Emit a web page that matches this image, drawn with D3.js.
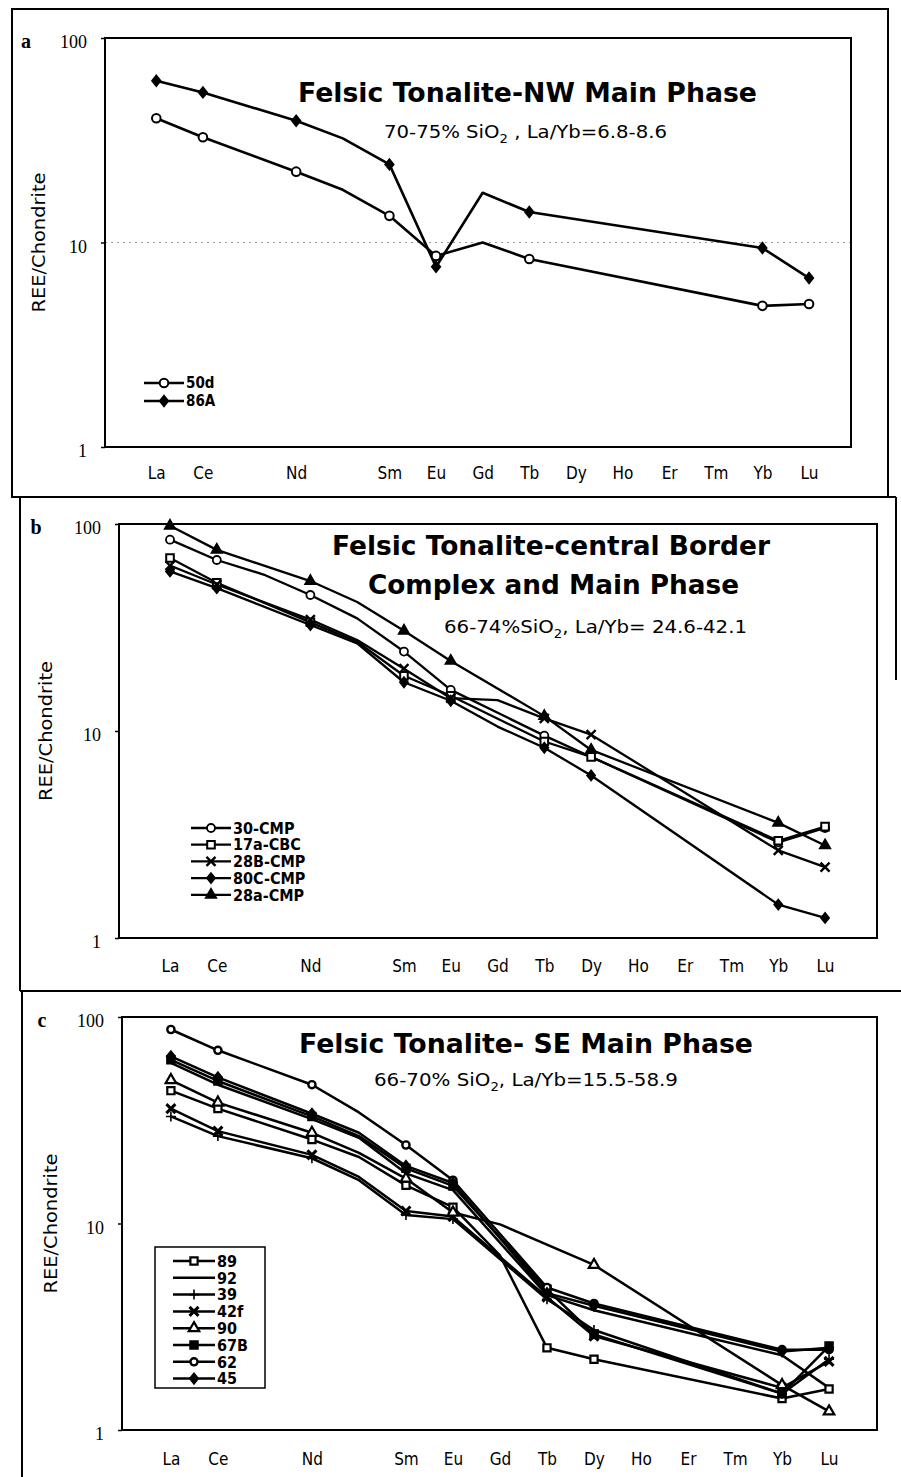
<!DOCTYPE html>
<html>
<head>
<meta charset="utf-8">
<script src="https://cdn.jsdelivr.net/npm/d3@7"></script>
<style>
  body { margin: 0; background: #fff; }
  svg { display: block; }
</style>
</head>
<body>
<svg id="chart" width="901" height="1477"></svg>
<script>
// REE elements, chondrite normalised (Pr, Pm are unlabelled on the axis)
var elements = ["La","Ce","Pr","Nd","Pm","Sm","Eu","Gd","Tb","Dy","Ho","Er","Tm","Yb","Lu"];
var axisLabels = ["La","Ce","","Nd","","Sm","Eu","Gd","Tb","Dy","Ho","Er","Tm","Yb","Lu"];
var markedElements = ["La","Ce","Nd","Sm","Eu","Tb","Dy","Yb","Lu"];
var yTicks = [1, 10, 100];

/*
** Panel a - NW main phase
 */
var namesA = ["50d", "86A"];
var a50d = [40.5, 32.7, null, 22.2, 18.1, 13.5, 8.6, 10.0, 8.3, null, null, null, null, 4.9, 5.0];
var a86A = [61.8, 54.2, null, 39.4, 32.3, 24.1, 7.6, 17.5, 14.1, null, null, null, null, 9.4, 6.7];

/*
** Panel b - central border complex
 */
var namesB = ["30-CMP", "17a-CBC", "28B-CMP", "80C-CMP", "28a-CMP"];
var b30CMP = [84, 67, 57, 45.4, 35, 24.2, 15.8, null, 9.5, null, null, null, null, 2.9, 3.4];
var b17aCBC = [68.5, 52, null, 33.5, 27, 18.5, 14.8, null, 8.9, 7.5, null, null, null, 2.95, 3.45];
var b28BCMP = [63, 51, null, 34.5, 27.5, 20, 14.4, 14.1, 11.5, 9.6, null, null, null, 2.65, 2.2];
var b80CCMP = [59, 49, null, 32.5, 26.5, 17.2, 14, 10.5, 8.3, 6.1, null, null, null, 1.45, 1.25];
var b28aCMP = [98, 75, null, 53, 42, 30.5, 21.8, null, 11.8, 8.1, null, null, null, 3.6, 2.8];

/*
** Panel c - SE main phase
 */
var namesC = ["89", "92", "39", "42f", "90", "67B", "62", "45"];
var c89 = [44, 36, null, 25.5, 21, 15.3, 12.0, 7.0, 2.5, 2.2, null, null, null, 1.42, 1.58];
var c92 = [60, 47, null, 32, 26, 17.5, 14.5, null, 4.5, 3.8, null, null, null, 2.3, 1.6];
var c39 = [33, 26.5, null, 20.7, 16.2, 11.0, 10.5, null, 4.3, 3.05, null, null, null, 1.5, 2.2];
var c42f = [36, 28, null, 21.5, 16.8, 11.5, 10.8, null, 4.4, 2.85, null, null, null, 1.6, 2.15];
var c90 = [49.5, 38.5, null, 27.5, 22, 16.5, 11.3, 9.9, null, 6.3, null, null, null, 1.65, 1.23];
var c67B = [62, 49, null, 33, 26.5, 18.5, 15.2, null, 4.8, 2.9, null, null, null, 1.5, 2.55];
var c62 = [87, 69, null, 47, 34.5, 24, 16.2, null, 4.9, 4.1, null, null, null, 2.45, 2.45];
var c45 = [64.5, 51, null, 34, 27.5, 19, 15.7, null, 4.6, 4.0, null, null, null, 2.4, 2.5];

var svg = d3.select("#chart");
var condensed = "'DejaVu Sans Condensed', 'Liberation Sans Narrow', 'DejaVu Sans', sans-serif";

/*
** Marker drawing
 */
function markerPath(type, r) {
    if (type == "circle") return d3.symbol(d3.symbolCircle, Math.PI * r * r)();
    if (type == "square") return d3.symbol(d3.symbolSquare, 4 * r * r)();
    if (type == "diamond") {
        var rx = r * 0.8;
        return "M0," + (-r) + "L" + rx + ",0L0," + r + "L" + (-rx) + ",0Z";
    }
    if (type == "triangle") return d3.symbol(d3.symbolTriangle, 1.9 * r * r)();
    if (type == "times") return "M" + (-r) + "," + (-r) + "L" + r + "," + r + "M" + (-r) + "," + r + "L" + r + "," + (-r);
    if (type == "plus") return "M" + (-r) + ",0H" + r + "M0," + (-r) + "V" + r;
    return null;
}

function addMarker(g, style, x, y) {
    if (!style.type) return;
    g.append("path")
        .attr("transform", "translate(" + x + "," + y + ")")
        .attr("d", markerPath(style.type, style.r))
        .attr("fill", style.fill ? "#000" : "#fff")
        .attr("stroke", "#000")
        .attr("stroke-width", style.sw || 1.5);
}

/*
** Panel builder
 */
function drawPanel(p) {
    var x = d3.scaleLinear().domain(p.xDom).range([p.plot.l, p.plot.r]);
    var y = d3.scaleLog().domain([1, 100]).range([p.plot.b, p.plot.t]);
    var g = svg.append("g");

    // dotted grid line at 10 (panel a only)
    if (p.grid) {
        g.append("line")
            .attr("x1", p.plot.l).attr("x2", p.plot.r)
            .attr("y1", y(10)).attr("y2", y(10))
            .attr("stroke", "#999").attr("stroke-width", 1)
            .attr("stroke-dasharray", "2,4");
    }

    // y axis
    var yAxis = g.append("g")
        .attr("transform", "translate(" + p.plot.l + ",0)")
        .call(d3.axisLeft(y).tickValues(yTicks).tickFormat(d3.format("d")).tickSize(4).tickPadding(14));
    yAxis.select(".domain").remove();
    yAxis.selectAll("line").attr("stroke", "#000").attr("stroke-width", 1.5);
    yAxis.selectAll("text")
        .attr("dy", "0.55em")
        .attr("fill", "#000")
        .style("font-family", "'Liberation Serif', serif")
        .style("font-size", "18px");

    // x axis labels
    var xAxis = g.append("g")
        .attr("transform", "translate(0," + p.plot.b + ")")
        .call(d3.axisBottom(x).tickValues(d3.range(elements.length))
            .tickFormat(function (i) { return axisLabels[i]; })
            .tickSize(0).tickPadding(p.xPad));
    xAxis.select(".domain").remove();
    xAxis.selectAll("text")
        .attr("fill", "#000")
        .style("font-family", condensed)
        .style("font-size", "17px");

    // plot frame
    g.append("rect")
        .attr("x", p.plot.l).attr("y", p.plot.t)
        .attr("width", p.plot.r - p.plot.l).attr("height", p.plot.b - p.plot.t)
        .attr("fill", "none").attr("stroke", "#000").attr("stroke-width", 2);

    // y title
    var cy = (p.plot.t + p.plot.b) / 2;
    g.append("text")
        .attr("transform", "translate(" + p.yTitleX + "," + cy + ") rotate(-90)")
        .attr("text-anchor", "middle")
        .attr("textLength", 140).attr("lengthAdjust", "spacingAndGlyphs")
        .style("font-family", "'DejaVu Sans', sans-serif")
        .style("font-size", "17px")
        .text("REE/Chondrite");

    // panel letter
    g.append("text")
        .attr("x", p.letterX).attr("y", p.plot.t + 10)
        .attr("text-anchor", "middle")
        .style("font-family", "'Liberation Serif', serif")
        .style("font-weight", "bold")
        .style("font-size", "20px")
        .text(p.letter);

    // titles
    p.titles.forEach(function (t) {
        g.append("text")
            .attr("x", t.x).attr("y", t.y)
            .attr("textLength", t.w).attr("lengthAdjust", "spacingAndGlyphs")
            .style("font-family", "'DejaVu Sans', sans-serif")
            .style("font-weight", "bold")
            .style("font-size", "26px")
            .text(t.text);
    });
    var sub = g.append("text")
        .attr("x", p.sub.x).attr("y", p.sub.y)
        .attr("textLength", p.sub.w).attr("lengthAdjust", "spacingAndGlyphs")
        .style("font-family", condensed)
        .style("font-size", "18px");
    sub.append("tspan").text(p.sub.pre);
    sub.append("tspan").attr("dy", 5).style("font-size", "12px").text("2");
    sub.append("tspan").attr("dy", -5).text(p.sub.post);

    // series lines then markers
    var line = d3.line()
        .x(function (d) { return x(d.i); })
        .y(function (d) { return y(d.v); });

    p.values.forEach(function (vals, k) {
        var pts = [];
        vals.forEach(function (v, i) { if (v != null) pts.push({ i: i, v: v }); });
        g.append("path")
            .attr("d", line(pts))
            .attr("fill", "none")
            .attr("stroke", "#000")
            .attr("stroke-width", p.lineWidth)
            .attr("stroke-linejoin", "round");
    });
    p.values.forEach(function (vals, k) {
        vals.forEach(function (v, i) {
            if (v == null || markedElements.indexOf(elements[i]) < 0) return;
            addMarker(g, p.marks[k], x(i), y(v));
        });
    });

    // legend
    var L = p.legend;
    if (L.box) {
        g.append("rect")
            .attr("x", L.box[0]).attr("y", L.box[1])
            .attr("width", L.box[2]).attr("height", L.box[3])
            .attr("fill", "#fff").attr("stroke", "#000").attr("stroke-width", 1.5);
    }
    p.names.forEach(function (name, k) {
        var ly = L.y0 + k * L.dy;
        g.append("line")
            .attr("x1", L.x0).attr("x2", L.x1)
            .attr("y1", ly).attr("y2", ly)
            .attr("stroke", "#000").attr("stroke-width", p.lineWidth);
        addMarker(g, p.marks[k], (L.x0 + L.x1) / 2, ly);
        g.append("text")
            .attr("x", L.x1 + 2).attr("y", ly)
            .attr("dy", "0.36em")
            .style("font-family", condensed)
            .style("font-weight", "bold")
            .style("font-size", L.size + "px")
            .text(name);
    });
}

/*
** Outer frames
 */
var frame = svg.append("g").attr("stroke", "#000").attr("stroke-width", 2).attr("fill", "none");
frame.append("rect").attr("x", 12).attr("y", 9).attr("width", 876).attr("height", 488);
frame.append("line").attr("x1", 20).attr("x2", 20).attr("y1", 497).attr("y2", 991);
frame.append("line").attr("x1", 896).attr("x2", 896).attr("y1", 497).attr("y2", 680);
frame.append("line").attr("x1", 12).attr("x2", 896).attr("y1", 497).attr("y2", 497);
frame.append("line").attr("x1", 20).attr("x2", 901).attr("y1", 991).attr("y2", 991);
frame.append("line").attr("x1", 22).attr("x2", 22).attr("y1", 991).attr("y2", 1477);

drawPanel({
    letter: "a", letterX: 26, yTitleX: 45, grid: true,
    plot: { l: 105, r: 851, t: 38, b: 447 }, xDom: [-1.1, 14.9], xPad: 20,
    lineWidth: 2.6,
    titles: [{ text: "Felsic Tonalite-NW Main Phase", x: 298, y: 102, w: 459 }],
    sub: { pre: "70-75% SiO", post: " , La/Yb=6.8-8.6", x: 384, y: 138, w: 283 },
    names: namesA, values: [a50d, a86A],
    marks: [{ type: "circle", r: 4.3, fill: false, sw: 2 }, { type: "diamond", r: 5.5, fill: true }],
    legend: { x0: 144, x1: 184, y0: 383, dy: 18, size: 15 }
});

drawPanel({
    letter: "b", letterX: 36, yTitleX: 52, grid: false,
    plot: { l: 119, r: 877, t: 524, b: 938 }, xDom: [-1.09, 15.11], xPad: 22,
    lineWidth: 2.3,
    titles: [
        { text: "Felsic Tonalite-central Border", x: 332, y: 555, w: 438 },
        { text: "Complex and Main Phase", x: 368, y: 594, w: 371 }
    ],
    sub: { pre: "66-74%SiO", post: ", La/Yb= 24.6-42.1", x: 444, y: 633, w: 303 },
    names: namesB, values: [b30CMP, b17aCBC, b28BCMP, b80CCMP, b28aCMP],
    marks: [
        { type: "circle", r: 4, fill: false, sw: 1.8 },
        { type: "square", r: 3.8, fill: false, sw: 2 },
        { type: "times", r: 4.5, fill: false, sw: 2.4 },
        { type: "diamond", r: 5.2, fill: true },
        { type: "triangle", r: 5.2, fill: true }
    ],
    legend: { x0: 191, x1: 231, y0: 828, dy: 16.7, size: 16 }
});

drawPanel({
    letter: "c", letterX: 42, yTitleX: 57, grid: false,
    plot: { l: 122, r: 877, t: 1017, b: 1430 }, xDom: [-1.04, 15.02], xPad: 23,
    lineWidth: 2.5,
    titles: [{ text: "Felsic Tonalite- SE Main Phase", x: 299, y: 1053, w: 454 }],
    sub: { pre: "66-70% SiO", post: ", La/Yb=15.5-58.9", x: 374, y: 1086, w: 304 },
    names: namesC, values: [c89, c92, c39, c42f, c90, c67B, c62, c45],
    marks: [
        { type: "square", r: 3.6, fill: false, sw: 2.2 },
        { type: null },
        { type: "plus", r: 5, fill: false, sw: 1.6 },
        { type: "times", r: 4.5, fill: false, sw: 3 },
        { type: "triangle", r: 5, fill: false, sw: 2.2 },
        { type: "square", r: 4, fill: true },
        { type: "circle", r: 3.6, fill: false, sw: 2.4 },
        { type: "diamond", r: 5.4, fill: true }
    ],
    legend: { box: [155, 1247, 110, 141], x0: 173, x1: 215, y0: 1261, dy: 16.8, size: 16 }
});
</script>
</body>
</html>
